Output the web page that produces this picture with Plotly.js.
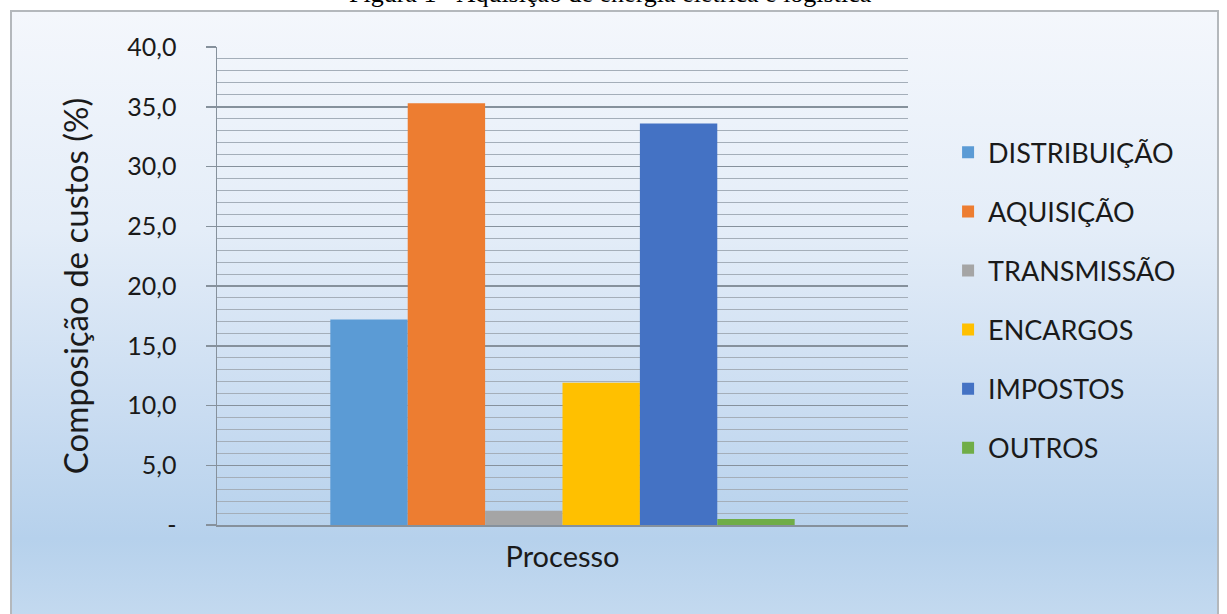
<!DOCTYPE html>
<html>
<head>
<meta charset="utf-8">
<script src="https://cdn.plot.ly/plotly-3.0.1.min.js"></script>
<style>
  html, body { margin: 0; padding: 0; background: #ffffff; }
  #wrap { position: relative; width: 1227px; height: 614px; overflow: hidden; background: #ffffff; }
  #bg { position: absolute; left: 10px; top: 10px; width: 1205px; height: 620px;
        border: 2px solid #b4b8bc;
        background: linear-gradient(to bottom, #f4f7fc 0%, #e4edf8 35%, #c9dcf1 65%, #b6d1ec 85%, #c6dbf0 100%); }
  #chart { position: absolute; left: 0; top: 0; width: 1227px; height: 614px; }
</style>
</head>
<body>
<div id="wrap">
  <div id="bg"></div>
  <div id="chart"></div>
</div>
<script>
// ---- data ----
const categories = ['Processo'];
const seriesNames = ['DISTRIBUIÇÃO', 'AQUISIÇÃO', 'TRANSMISSÃO', 'ENCARGOS', 'IMPOSTOS', 'OUTROS'];
const seriesValues = [17.2, 35.3, 1.2, 11.9, 33.6, 0.5];
const seriesColors = ['#5b9bd5', '#ed7d31', '#a5a5a5', '#ffc000', '#4472c4', '#70ad47'];
const yTickVals = [0, 5, 10, 15, 20, 25, 30, 35, 40];
const yTickText = ['-', '5,0', '10,0', '15,0', '20,0', '25,0', '30,0', '35,0', '40,0'];
const chartTitle = 'Figura 1 - Aquisição de energia elétrica e logística';
const yTitle = 'Composição de custos (%)';

const font = 'Lato, "Open Sans", sans-serif';
const textColor = '#1a1a1a';

const traces = seriesNames.map((name, i) => ({
  type: 'bar',
  name: name,
  x: categories,
  y: [seriesValues[i]],
  marker: { color: seriesColors[i], line: { width: 0 } },
  legendgroup: 'g' + i,
  hoverinfo: 'name+y'
}));

const layout = {
  width: 1227,
  height: 614,
  margin: { l: 217, r: 319, t: 47, b: 89 },
  paper_bgcolor: 'rgba(0,0,0,0)',
  plot_bgcolor: 'rgba(0,0,0,0)',
  barmode: 'group',
  bargap: 0.328,
  bargroupgap: 0,
  font: { family: font, color: textColor },
  showlegend: true,
  legend: {
    x: 1.058, xanchor: 'left',
    y: 0.83, yanchor: 'top',
    font: { family: font, size: 27, color: textColor },
    tracegroupgap: 21,
    bgcolor: 'rgba(0,0,0,0)',
    borderwidth: 0
  },
  xaxis: {
    type: 'category',
    showline: true,
    linecolor: '#86919c',
    linewidth: 1.5,
    ticks: '',
    showgrid: false,
    tickfont: { family: font, size: 29, color: textColor },
    ticklabelstandoff: 6,
    fixedrange: true
  },
  yaxis: {
    range: [0, 40],
    tickvals: yTickVals,
    ticktext: yTickText,
    tickfont: { family: font, size: 25, color: textColor },
    ticks: 'outside',
    ticklen: 10,
    tickwidth: 1.5,
    tickcolor: '#86919c',
    ticklabelstandoff: 24,
    showline: true,
    linecolor: '#86919c',
    linewidth: 1.5,
    showgrid: true,
    gridcolor: '#86919c',
    gridwidth: 1.5,
    zeroline: false,
    minor: { dtick: 1, showgrid: true, gridcolor: '#a4aeb9', gridwidth: 1, ticks: '' },
    title: { text: yTitle, font: { family: font, size: 33, color: textColor }, standoff: 29 },
    fixedrange: true
  },
  annotations: [{
    text: chartTitle,
    xref: 'paper', yref: 'paper',
    x: 0.569, y: 1.078,
    xanchor: 'center', yanchor: 'bottom',
    showarrow: false,
    font: { family: '"Liberation Serif", "Times New Roman", serif', size: 26, color: '#000000' }
  }]
};

Plotly.newPlot('chart', traces, layout, { displayModeBar: false, staticPlot: true });
</script>
</body>
</html>
